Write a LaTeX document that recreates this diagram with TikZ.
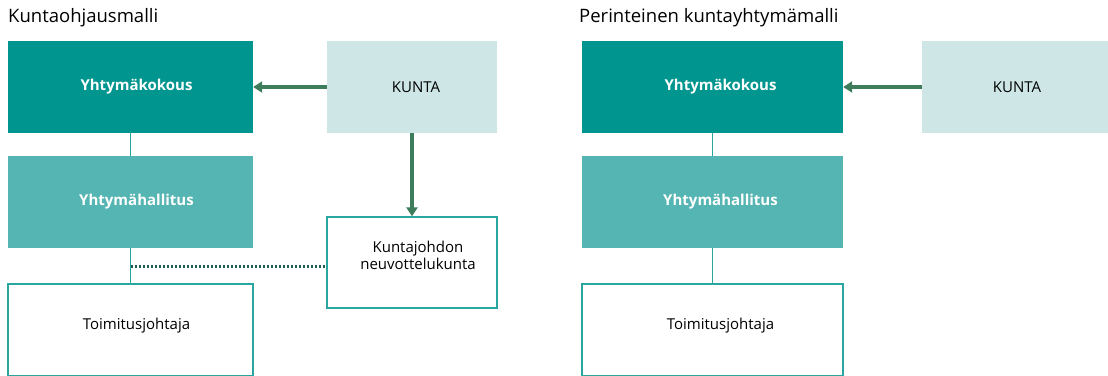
\documentclass[tikz,border=0pt]{standalone}
\usepackage{fontspec}
\setmainfont{Open Sans}
\usetikzlibrary{calc, positioning, arrows.meta}

\definecolor{tealdark}{HTML}{00968F}
\definecolor{tealmid}{HTML}{55B5B2}
\definecolor{teallight}{HTML}{CEE7E6}
\definecolor{tealline}{HTML}{2AA6A0}
\definecolor{arrowgreen}{HTML}{3D7D5B}
\definecolor{dotgreen}{HTML}{1D5E55}

\begin{document}
\begin{tikzpicture}[x=1pt, y=-1pt,
  box/.style = {inner sep = 0pt, minimum height = 92pt, align = center,
    font = \fontsize{15}{16.5}\selectfont},
  kokous/.style = {box, fill = tealdark, text = white, font = \fontsize{15}{17}\selectfont\bfseries},
  hallitus/.style = {box, fill = tealmid, text = white, font = \fontsize{15}{17}\selectfont\bfseries},
  kunta/.style = {box, fill = teallight},
  plain/.style = {box, draw = tealline, line width = 1.3pt, fill = white},
  title/.style = {anchor = west, inner sep = 0pt, font = \fontsize{18.5}{22}\selectfont},
  link/.style = {draw = tealline, line width = 1.4pt},
  feed/.style = {draw = arrowgreen, line width = 3.6pt, -{Triangle[length = 9pt, width = 11pt]}}]
\useasboundingbox (0,0) rectangle (1108,375);
% Kuntaohjausmalli
\node[title] (t1) at (8,18) {Kuntaohjausmalli};
\node[kokous, minimum width = 245pt] (kok1) at (130.5,87) {\hspace*{12pt}Yhtymäkokous};
\node[kunta, minimum width = 170pt] (kun1) at (412,87) {\hspace*{8pt}KUNTA};
\node[hallitus, minimum width = 245pt] (hal1) at (130.5,202) {\hspace*{12pt}Yhtymähallitus};
\node[plain, minimum width = 245pt] (toj1) at (130.5,330) {\hspace*{12pt}Toimitusjohtaja\\[-4pt]};
\node[plain, minimum width = 170pt, minimum height = 91pt] (neu1) at (412,262.5) {\hspace*{12pt}Kuntajohdon\\\hspace*{12pt}neuvottelukunta\\[-2pt]};
% Perinteinen kuntayhtymamalli
\node[title] (t2) at (579,18) {Perinteinen kuntayhtymämalli};
\node[kokous, minimum width = 261pt] (kok2) at (712.5,87) {\hspace*{16pt}Yhtymäkokous};
\node[kunta, minimum width = 186pt] (kun2) at (1015,87) {\hspace*{4pt}KUNTA};
\node[hallitus, minimum width = 261pt] (hal2) at (712.5,202) {\hspace*{16pt}Yhtymähallitus};
\node[plain, minimum width = 261pt] (toj2) at (712.5,330) {\hspace*{16pt}Toimitusjohtaja\\[-4pt]};
\foreach \i/\j in {kok1/hal1, hal1/toj1, kok2/hal2, hal2/toj2}{
\draw[link] (\i.south) -- (\j.north);
}
\coordinate (mid1) at (130.5,266);
\draw[dotgreen, line width = 3pt, dash pattern = on 2.5pt off 1.5pt] (mid1) -- (mid1 -| neu1.west);
\draw[feed] (kun1.west) -- (kok1.east);
\draw[feed] (kun2.west) -- (kok2.east);
\draw[feed] (kun1.south) -- (neu1.north);
\end{tikzpicture}
\end{document}
